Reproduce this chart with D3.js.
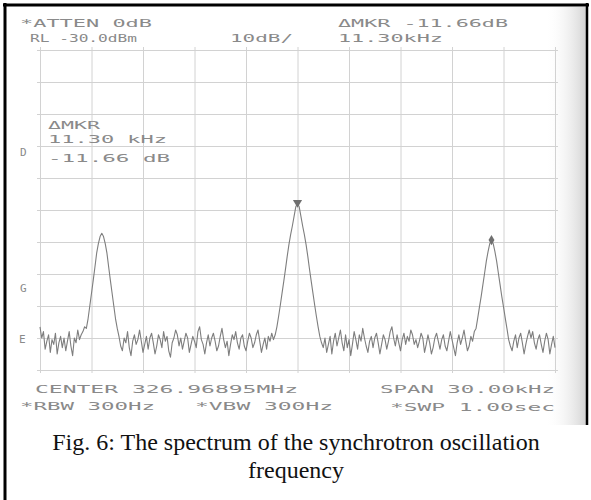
<!DOCTYPE html>
<html>
<head>
<meta charset="utf-8">
<script src="https://cdn.jsdelivr.net/npm/d3@7"></script>
<style>
  body { margin: 0; background: #fff; }
  svg { display: block; }
</style>
</head>
<body>
<div id="chart"></div>
<script>
// sweep: offset from the 326.96895 MHz centre, in kHz
const spanKHz = [-15, 15]
// screen bottom and reference level, dBm (10 dB/div)
const levelDbm = [-130, -30]
const freqDivs = [-15, -12, -9, -6, -3, 0, 3, 6, 9, 12, 15]
const levelDivs = [-130, -120, -110, -100, -90, -80, -70, -60, -50, -40, -30]

// trace, 301 points evenly spaced across the span
const traceDbm = [
    // floor, left edge
    -116.5, -120, -118, -123.5, -121, -119, -124.5, -120.5, -122, -118.5,
    -125, -121.5, -119.5, -123, -120, -124, -121, -118, -122.5, -125.5,
    -120, -121.5, -117.5, -120.5, -119, -118, -116.5,
    // lower sideband
    -117, -114, -110, -106, -102, -97.8, -93.5, -90.5, -88.3, -87.3,
    -88.3, -90.5, -93.5, -97.8, -102, -106, -110, -114, -117,
    // floor
    -119.5, -122.5, -124, -120, -121.5, -118, -123, -125.5, -121, -119,
    -122, -120.5, -117.5, -121, -124.5, -122, -119.5, -123.5, -120, -118.5,
    -121.5, -125, -122.5, -119, -120.5, -123, -118, -121, -119.5, -124,
    -126, -121.5, -120, -117.5, -119, -122.5, -120, -123.5, -121, -118.5,
    -120, -124.5, -122, -119.5, -121, -123, -118, -116.5, -120.5, -122,
    -125, -121.5, -119, -122.5, -120, -118.5, -121, -124, -122.5, -119.5,
    -117, -120.5, -123, -121, -125.5, -122, -119, -120.5, -118, -121.5,
    -123.5, -120, -119, -122.5, -124, -121, -118.5, -120, -123, -121.5,
    -119, -117.5, -121, -124.5, -122, -120, -123.5, -119.5, -121, -118.5,
    -120.5,
    // carrier
    -119, -116.5, -113.2, -109.7, -106, -102.3, -98.5, -94.5, -90.8, -87.7,
    -85, -82, -79, -78, -79, -82, -85, -87.7, -90.8, -94.5,
    -98.5, -102.3, -106, -109.7, -113.2, -116.5, -119.5,
    // floor
    -121.5, -123, -120, -124.5, -122, -119.5, -125, -121, -118.5, -122.5,
    -120, -117.5, -121.5, -124, -119, -123, -120.5, -125.5, -122, -118,
    -120.5, -123.5, -119, -121, -117, -120, -122.5, -124.5, -121, -119.5,
    -123, -120, -118.5, -121.5, -125, -122, -119, -120.5, -123.5, -121,
    -118, -116.5, -120, -122.5, -119, -121.5, -124, -120.5, -118.5, -122,
    -119.5, -121, -117.5, -119, -122, -120.5, -123, -121, -118.5, -120,
    -124.5, -122, -119, -121.5, -125, -123, -120, -118.5, -121, -123.5,
    -120.5, -119, -122.5, -124, -121, -118, -120.5, -123, -125.5, -121.5,
    -119, -122, -120, -117.5, -121, -124, -122.5, -119.5, -121, -118,
    // upper sideband
    -117, -113.7, -110.3, -107, -103.3, -99.7, -96, -93, -90.5, -89.7,
    -90.5, -93, -96, -99.7, -103.3, -107, -110.3, -113.7, -117,
    // floor, right edge
    -120.5, -122.5, -124, -121, -119, -123, -120, -118.5, -121.5, -125,
    -122, -119.5, -117.5, -120, -118, -121.5, -123.5, -120.5, -119, -122,
    -124.5, -121, -118.5, -120.5, -125, -122, -119.5, -123
]

// delta marker pair
const markerKHz = [0, 11.3]
const markerDbm = [-78, -89.7]
const markerShapes = ['down', 'diamond']

const headerLeft = ['*ATTEN  0dB', 'RL  -30.0dBm', '10dB/']
const headerRight = ['\u0394MKR -11.66dB', '11.30kHz']
const markerNote = ['\u0394MKR', '11.30 kHz', '-11.66 dB']
const footer = ['CENTER 326.96895MHz', 'SPAN 30.00kHz', '*RBW 300Hz', '*VBW 300Hz', '*SWP 1.00sec']
const caption = ['Fig. 6: The spectrum of the synchrotron oscillation', 'frequency']

const width = 591, height = 500
const svg = d3.select('#chart').append('svg')
    .attr('width', width)
    .attr('height', height)

// scan shading on the right of the print
const grad = svg.append('defs').append('linearGradient')
    .attr('id', 'shade')
    .attr('x1', '0').attr('x2', '1')
grad.append('stop').attr('offset', '0').attr('stop-color', '#fff').attr('stop-opacity', 0)
grad.append('stop').attr('offset', '1').attr('stop-color', '#cfcfcf').attr('stop-opacity', 0.9)
svg.append('rect')
    .attr('x', 545).attr('y', 7)
    .attr('width', 41).attr('height', 418)
    .attr('fill', 'url(#shade)')

const x = d3.scaleLinear().domain(spanKHz).range([40, 555])
const y = d3.scaleLinear().domain(levelDbm).range([370, 50])

const grid = svg.append('g')

// graticule, lines poke out a little past the frame like the plotter did
grid.append('g')
    .attr('transform', `translate(0,${y(levelDbm[0]) + 3})`)
    .call(d3.axisBottom(x).tickValues(freqDivs).tickSize(-(y(levelDbm[0]) - y(levelDbm[1]) + 6)).tickFormat(''))
    .call(g => g.select('.domain').remove())
grid.append('g')
    .attr('transform', `translate(${x(spanKHz[0]) - 3},0)`)
    .call(d3.axisLeft(y).tickValues(levelDivs).tickSize(-(x(spanKHz[1]) - x(spanKHz[0]) + 6)).tickFormat(''))
    .call(g => g.select('.domain').remove())
grid.selectAll('line').attr('stroke', '#d2d2d2').attr('stroke-width', 1)

const step = (spanKHz[1] - spanKHz[0]) / (traceDbm.length - 1)
const line = d3.line()
    .x((d, i) => x(spanKHz[0] + i * step))
    .y(d => y(d))

svg.append('path')
    .datum(traceDbm)
    .attr('fill', 'none')
    .attr('stroke', '#7e7e7e')
    .attr('stroke-width', 1.1)
    .attr('stroke-linejoin', 'round')
    .attr('d', line)

const shapes = {
    down: d3.symbol().type(d3.symbolTriangle).size(36),
    diamond: d3.symbol().type(d3.symbolDiamond).size(30)
}
svg.selectAll('.mkr')
    .data(markerKHz)
    .enter().append('path')
    .attr('class', 'mkr')
    .attr('d', (d, i) => shapes[markerShapes[i]]())
    .attr('transform', (d, i) => `translate(${x(d)},${y(markerDbm[i]) - 1})` + (markerShapes[i] == 'down' ? ' rotate(180)' : ''))
    .attr('fill', '#6f6f6f')

// analyser annotations, stretched to the plotter's wide lettering
function plotText(str, px, py, len) {
    const t = svg.append('text')
        .attr('x', px)
        .attr('y', py)
        .attr('font-family', 'DejaVu Sans Mono')
        .attr('font-size', 11)
        .attr('fill', '#8a8a8a')
        .text(str)
    if (len) {
        t.attr('textLength', len).attr('lengthAdjust', 'spacingAndGlyphs')
    }
}

plotText(headerLeft[0], 20, 27, 132)
plotText(headerLeft[1], 30, 42, 107)
plotText(headerLeft[2], 230, 42, 63)
plotText(headerRight[0], 338, 27, 170)
plotText(headerRight[1], 338, 42, 105)

plotText(markerNote[0], 48, 129, 52)
plotText(markerNote[1], 48, 143, 119)
plotText(markerNote[2], 48, 162, 122)

plotText('D', 20, 156)
plotText('G', 20, 292)
plotText('E', 19, 343)

plotText(footer[0], 35, 393, 263)
plotText(footer[1], 380, 393, 175)
plotText(footer[2], 20, 410, 135)
plotText(footer[3], 195, 410, 138)
plotText(footer[4], 390, 411, 165)

svg.selectAll('.caption')
    .data(caption)
    .enter().append('text')
    .attr('class', 'caption')
    .attr('x', 296)
    .attr('y', (d, i) => 450 + i * 28)
    .attr('text-anchor', 'middle')
    .attr('font-family', 'Liberation Serif')
    .attr('font-size', 24)
    .attr('fill', '#111')
    .text(d => d)

// frame of the figure box
const frame = svg.append('g').attr('stroke', '#000').attr('stroke-width', 3)
frame.append('line').attr('x1', 5).attr('y1', 3).attr('x2', 5).attr('y2', 500)
frame.append('line').attr('x1', 3).attr('y1', 5).attr('x2', 589).attr('y2', 5)
frame.append('line').attr('x1', 587).attr('y1', 3).attr('x2', 587).attr('y2', 425).attr('stroke-width', 2.5)
</script>
</body>
</html>
